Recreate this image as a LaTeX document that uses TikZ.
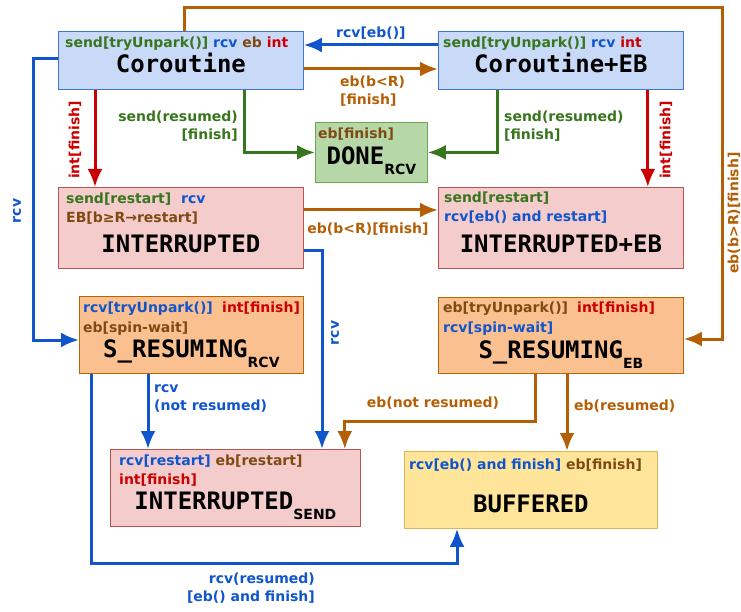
\documentclass[tikz,border=0pt]{standalone}
\usepackage{fontspec}
\setmainfont{DejaVu Sans}
\newfontfamily\statefont{DejaVu Sans Mono}
\usetikzlibrary{arrows.meta}

\definecolor{cofill}{HTML}{C9DAF8}
\definecolor{coline}{HTML}{3C78D8}
\definecolor{donefill}{HTML}{B6D7A8}
\definecolor{doneline}{HTML}{6AA84F}
\definecolor{intfill}{HTML}{F4CCCC}
\definecolor{intline}{HTML}{B85450}
\definecolor{resfill}{HTML}{FAC090}
\definecolor{resline}{HTML}{B46504}
\definecolor{buffill}{HTML}{FFE599}
\definecolor{bufline}{HTML}{D6B656}
\definecolor{sndcol}{HTML}{38761D}
\definecolor{rcvcol}{HTML}{1155CC}
\definecolor{intcol}{HTML}{CC0000}
\definecolor{ebcol}{HTML}{7F4A12}
\definecolor{ebline}{HTML}{B45F06}

\newcommand{\snd}[1]{\textcolor{sndcol}{#1}}
\newcommand{\rcv}[1]{\textcolor{rcvcol}{#1}}
\newcommand{\eb}[1]{\textcolor{ebcol}{#1}}
\newcommand{\intr}[1]{\textcolor{intcol}{#1}}
\newcommand{\ssub}[1]{\raisebox{-10pt}{\normalfont\bfseries\fontsize{14}{14}\selectfont #1}}

\begin{document}
\begin{tikzpicture}[x=1pt, y=-1pt,
    box/.style={draw, line width=0.8pt, anchor=north west, inner sep=0pt},
    ttl/.style={anchor=base, inner sep=0pt, font=\statefont\bfseries\fontsize{24}{24}\selectfont},
    lbl/.style={anchor=base west, inner sep=0pt, font=\bfseries\fontsize{14}{18}\selectfont},
    edge/.style={inner sep=0pt, font=\bfseries\fontsize{14}{18}\selectfont},
    arr/.style={line width=3pt, -{Latex[length=18pt,width=15pt]}}]
    \useasboundingbox (0,0) rectangle (741,612);

    % states
    \foreach \n/\x/\y/\w/\h/\f/\d in {co/58/31/245/58/cofill/coline,
        coeb/438/31/245/58/cofill/coline, done/315/122/112/60/donefill/doneline,
        int/58/187/245/81/intfill/intline, inteb/438/187/245/81/intfill/intline,
        sres/79/296/224/77/resfill/resline, seb/438/297/245/76/resfill/resline,
        isend/110/449/250/77/intfill/intline, buf/404/451/253/77/buffill/bufline}
    \node[box, fill=\f, draw=\d, minimum width=\w pt, minimum height=\h pt] (\n) at (\x,\y) {};

    \node[ttl] (co-name) at ([shift={(0,42)}]co.north) {Coroutine};
    \node[ttl] (coeb-name) at ([shift={(0,42)}]coeb.north) {Coroutine+EB};
    \node[ttl] (done-name) at ([shift={(0,43)}]done.north) {DONE\ssub{RCV}};
    \node[ttl] (int-name) at ([shift={(0,65)}]int.north) {INTERRUPTED};
    \node[ttl] (inteb-name) at ([shift={(0,65)}]inteb.north) {INTERRUPTED+EB};
    \node[ttl] (sres-name) at ([shift={(0,61)}]sres.north) {S\_RESUMING\ssub{RCV}};
    \node[ttl] (seb-name) at ([shift={(0,61)}]seb.north) {S\_RESUMING\ssub{EB}};
    \node[ttl] (isend-name) at ([shift={(0,60)}]isend.north) {INTERRUPTED\ssub{SEND}};
    \node[ttl] (buf-name) at ([shift={(0,61)}]buf.north) {BUFFERED};

    \node[lbl] (co-a) at ([shift={(7,17)}]co.north west)
        {\snd{send[tryUnpark()]} \rcv{rcv} \eb{eb} \intr{int}};
    \node[lbl] (coeb-a) at ([shift={(5,17)}]coeb.north west)
        {\snd{send[tryUnpark()]} \rcv{rcv} \intr{int}};
    \node[lbl] (done-a) at ([shift={(3,17)}]done.north west) {\eb{eb[finish]}};
    \node[lbl] (int-a) at ([shift={(8,17)}]int.north west) {\snd{send[restart]}};
    \node[lbl] (int-b) at ([shift={(123,17)}]int.north west) {\rcv{rcv}};
    \node[lbl] (int-c) at ([shift={(8,36)}]int.north west) {\eb{EB[b≥R→restart]}};
    \node[lbl] (inteb-a) at ([shift={(6,16)}]inteb.north west) {\snd{send[restart]}};
    \node[lbl] (inteb-b) at ([shift={(6,35)}]inteb.north west) {\rcv{rcv[eb() and restart]}};
    \node[lbl] (sres-a) at ([shift={(4,16)}]sres.north west) {\rcv{rcv[tryUnpark()]}};
    \node[lbl] (sres-b) at ([shift={(143,16)}]sres.north west) {\intr{int[finish]}};
    \node[lbl] (sres-c) at ([shift={(4,36)}]sres.north west) {\eb{eb[spin-wait]}};
    \node[lbl] (seb-a) at ([shift={(5,15)}]seb.north west) {\eb{eb[tryUnpark()]}};
    \node[lbl] (seb-b) at ([shift={(139,15)}]seb.north west) {\intr{int[finish]}};
    \node[lbl] (seb-c) at ([shift={(5,35)}]seb.north west) {\rcv{rcv[spin-wait]}};
    \node[lbl] (isend-a) at ([shift={(9,16)}]isend.north west) {\rcv{rcv[restart]} \eb{eb[restart]}};
    \node[lbl] (isend-b) at ([shift={(9,35)}]isend.north west) {\intr{int[finish]}};
    \node[lbl] (buf-a) at ([shift={(5,18)}]buf.north west) {\rcv{rcv[eb() and finish]} \eb{eb[finish]}};

    % transitions
    \coordinate (loop) at (722,8);
    \draw[arr, ebline] ([shift={(126,0)}]co.north west) |- (loop) |- ([shift={(0,42)}]seb.north east);
    \draw[arr, rcvcol] ([shift={(0,14)}]coeb.north west) -- node[edge, above=4pt] (l-rcveb) {rcv[eb()]} ([shift={(0,14)}]co.north east);
    \draw[arr, ebline] ([shift={(0,38)}]co.north east) -- ([shift={(0,38)}]coeb.north west);
    \draw[arr, intcol] ([shift={(37,0)}]co.south west) -- ([shift={(37,0)}]int.north west);
    \draw[arr, sndcol] ([shift={(-59,0)}]co.south east) |- (done.west);
    \draw[arr, sndcol] ([shift={(59,0)}]coeb.south west) |- (done.east);
    \draw[arr, intcol] ([shift={(-36,0)}]coeb.south east) -- ([shift={(-36,0)}]inteb.north east);
    \draw[arr, ebline] ([shift={(0,23)}]int.north east) -- ([shift={(0,23)}]inteb.north west);
    \draw[arr, rcvcol] ([shift={(0,64)}]int.north east) -| ([shift={(212,0)}]isend.north west);
    \draw[arr, rcvcol] ([shift={(0,28)}]co.north west) -- ++(-25,0) |- ([shift={(0,44)}]sres.north west);
    \draw[arr, rcvcol] ([shift={(69,0)}]sres.south west) -- ([shift={(38,0)}]isend.north west);
    \draw[arr, rcvcol] ([shift={(12,0)}]sres.south west) -- ++(0,190) -| ([shift={(53,0)}]buf.south west);
    \draw[arr, ebline] ([shift={(97,0)}]seb.south west) -- ++(0,48) -| ([shift={(-16,0)}]isend.north east);
    \draw[arr, ebline] ([shift={(129,0)}]seb.south west) -- ([shift={(163,0)}]buf.north west);

    \node[edge, ebline, anchor=north west, align=left] (l-cocoeb) at (340,76) {eb(b<R)\\{}[finish]};
    \node[edge, sndcol, anchor=north east, align=right] (l-codone) at (238,111) {send(resumed)\\{}[finish]};
    \node[edge, sndcol, anchor=north west, align=left] (l-coebdone) at (504,111) {send(resumed)\\{}[finish]};
    \node[edge, intcol, rotate=90] (l-coint) at (75,140) {int[finish]};
    \node[edge, intcol, rotate=90] (l-coebint) at (666,140) {int[finish]};
    \node[edge, ebline, anchor=base] (l-intinteb) at (368,234) {eb(b<R)[finish]};
    \node[edge, rcvcol, rotate=90] (l-cosres) at (17,211) {rcv};
    \node[edge, rcvcol, rotate=90] (l-intisend) at (335,333) {rcv};
    \node[edge, ebline, rotate=90] (l-coseb) at (734,213) {eb(b>R)[finish]};
    \node[edge, rcvcol, anchor=north west, align=left] (l-sresisend) at (154,384) {rcv\\(not resumed)};
    \node[edge, ebline, anchor=base] (l-sebisend) at (433,407) {eb(not resumed)};
    \node[edge, ebline, anchor=base west] (l-sebbuf) at (574,410) {eb(resumed)};
    \node[edge, rcvcol, anchor=north east, align=right] (l-sresbuf) at (315,573) {rcv(resumed)\\{}[eb() and finish]};
\end{tikzpicture}
\end{document}
